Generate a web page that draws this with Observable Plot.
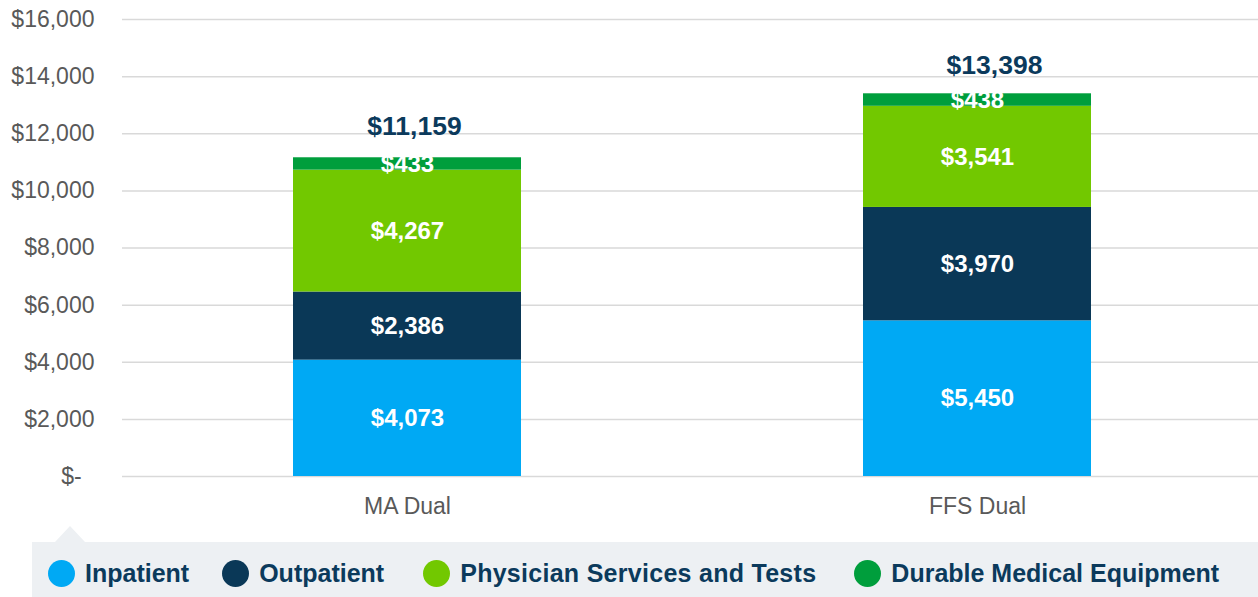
<!DOCTYPE html>
<html>
<head>
<meta charset="utf-8">
<script src="https://cdn.jsdelivr.net/npm/d3@7"></script>
<script src="https://cdn.jsdelivr.net/npm/@observablehq/plot@0.6"></script>
<style>
  html, body { margin: 0; padding: 0; background: #ffffff; }
  #wrap { width: 1258px; font-family: "Liberation Sans", Arial, sans-serif; }
  #legend {
    position: relative;
    margin-left: 32px;
    margin-top: 12px;
    height: 55px;
    background: #edf0f3;
    display: flex;
    align-items: center;
    padding-left: 16px;
    padding-top: 7px;
    box-sizing: border-box;
  }
  #legend::before {
    content: "";
    position: absolute;
    top: -16px;
    left: 23px;
    border-left: 15px solid transparent;
    border-right: 15px solid transparent;
    border-bottom: 16px solid #edf0f3;
  }
  .item { display: flex; align-items: center; margin-right: 36px; }
  .item:nth-child(1) { margin-right: 33px; }
  .item:nth-child(2) { margin-right: 39px; }
  .item:nth-child(3) { margin-right: 38px; }
  .dot { width: 27px; height: 27px; border-radius: 50%; margin-right: 10px; }
  .lab { font-size: 25px; font-weight: bold; color: #0b3a5c; white-space: nowrap; }
  .item:nth-child(3) .lab { letter-spacing: 0.28px; }
</style>
</head>
<body>
<div id="wrap"></div>
<script>
const groups = ["MA Dual", "FFS Dual"];
const categories = ["Inpatient", "Outpatient", "Physician Services and Tests", "Durable Medical Equipment"];
const maDual = [4073, 2386, 4267, 433];
const ffsDual = [5450, 3970, 3541, 438];
const totals = [11159, 13398];
const yTicks = [0, 2000, 4000, 6000, 8000, 10000, 12000, 14000, 16000];
const colors = ["#00a9f4", "#0a3857", "#72c800", "#009e3c"];

const series = [maDual, ffsDual];
const data = groups.flatMap((g, i) => categories.map((c, j) => ({group: g, category: c, value: series[i][j]})));
const totalRows = groups.map((g, i) => ({group: g, total: totals[i]}));
const fmt = v => "$" + d3.format(",")(v);
const tickFmt = v => v === 0 ? "$-\u00a0\u00a0" : fmt(v);
const totalStyle = {x: "group", y: "total", text: d => fmt(d.total), fill: "#0b3a5c", fontWeight: "bold", fontSize: 26.5};

const chart = Plot.plot({
  width: 1258,
  height: 530,
  marginLeft: 122,
  marginRight: 0,
  marginTop: 19,
  marginBottom: 54,
  style: {fontFamily: "'Liberation Sans', Arial, sans-serif", fontSize: "23px", background: "white", color: "#595959"},
  x: {domain: groups, range: [122, 1262], paddingInner: 0.6, paddingOuter: 0.3, axis: null, label: null},
  y: {domain: [0, 16000], axis: null, label: null},
  color: {domain: categories, range: colors},
  marks: [
    Plot.ruleY(yTicks, {stroke: "#d9d9d9", strokeWidth: 1.5}),
    Plot.axisY({ticks: yTicks, tickSize: 0, tickPadding: 28, tickFormat: tickFmt, fill: "#595959", fontSize: 23, label: null}),
    Plot.barY(data, {x: "group", y: "value", fill: "category"}),
    Plot.text(data, Plot.stackY({x: "group", y: "value", z: "category", text: d => fmt(d.value), fill: "white", fontWeight: "bold", fontSize: 24})),
    Plot.text(totalRows.slice(0, 1), {...totalStyle, dx: 7, dy: -31}),
    Plot.text(totalRows.slice(1, 2), {...totalStyle, dx: 17, dy: -28}),
    Plot.axisX({tickSize: 0, tickPadding: 21, fill: "#595959", fontSize: 23, label: null})
  ]
});

const wrap = document.getElementById("wrap");
wrap.appendChild(chart);

const legend = document.createElement("div");
legend.id = "legend";
categories.forEach((c, i) => {
  const it = document.createElement("div");
  it.className = "item";
  const dot = document.createElement("span");
  dot.className = "dot";
  dot.style.background = colors[i];
  const lab = document.createElement("span");
  lab.className = "lab";
  lab.textContent = c;
  it.appendChild(dot);
  it.appendChild(lab);
  legend.appendChild(it);
});
wrap.appendChild(legend);
</script>
</body>
</html>
